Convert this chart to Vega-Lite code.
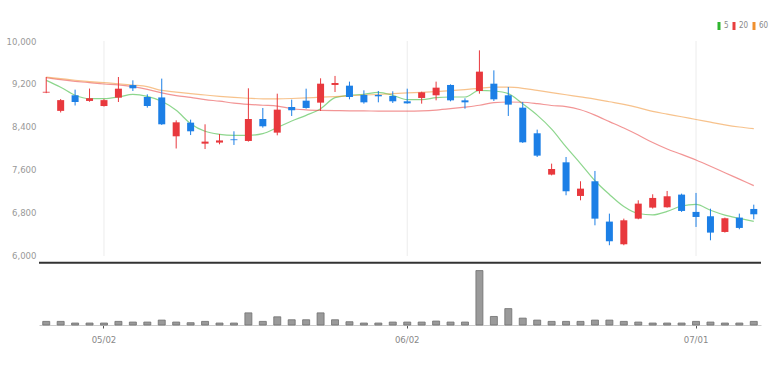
{
  "$schema": "https://vega.github.io/schema/vega-lite/v6.json",
  "width": 722,
  "height": 284,
  "padding": {"left": 5, "top": 22, "right": 5, "bottom": 5},
  "background": "white",
  "config": {
    "view": {"stroke": null},
    "font": "Liberation Sans Narrow, DejaVu Sans Condensed, Roboto, sans-serif",
    "axisY": {"format": ",d", "formatType": "number"}
  },
  "datasets": {
    "k": [
      {"d":"2022-04-26","o":9040,"h":9330,"l":9030,"c":9055,"v":110000,"ma5":9268,"ma20":9318,"ma60":9330},
      {"d":"2022-04-27","o":8700,"h":8920,"l":8670,"c":8900,"v":110000,"ma5":9140,"ma20":9280,"ma60":9300},
      {"d":"2022-04-28","o":8990,"h":9095,"l":8800,"c":8865,"v":60000,"ma5":8990,"ma20":9250,"ma60":9270},
      {"d":"2022-04-29","o":8885,"h":9115,"l":8870,"c":8935,"v":60000,"ma5":8927,"ma20":9225,"ma60":9245},
      {"d":"2022-05-02","o":8790,"h":8920,"l":8780,"c":8900,"v":60000,"ma5":8927,"ma20":9200,"ma60":9225},
      {"d":"2022-05-03","o":8946,"h":9330,"l":8865,"c":9113,"v":110000,"ma5":8958,"ma20":9185,"ma60":9205},
      {"d":"2022-05-04","o":9180,"h":9268,"l":9070,"c":9120,"v":90000,"ma5":9008,"ma20":9150,"ma60":9180},
      {"d":"2022-05-06","o":8958,"h":9008,"l":8760,"c":8791,"v":90000,"ma5":8971,"ma20":9100,"ma60":9150},
      {"d":"2022-05-09","o":8950,"h":9300,"l":8438,"c":8450,"v":150000,"ma5":8878,"ma20":9035,"ma60":9080},
      {"d":"2022-05-10","o":8227,"h":8524,"l":8000,"c":8487,"v":90000,"ma5":8710,"ma20":8985,"ma60":9050},
      {"d":"2022-05-11","o":8481,"h":8537,"l":8250,"c":8320,"v":70000,"ma5":8462,"ma20":8950,"ma60":9020},
      {"d":"2022-05-12","o":8090,"h":8450,"l":7990,"c":8128,"v":110000,"ma5":8320,"ma20":8910,"ma60":8995},
      {"d":"2022-05-13","o":8110,"h":8270,"l":8078,"c":8150,"v":60000,"ma5":8264,"ma20":8880,"ma60":8970},
      {"d":"2022-05-16","o":8170,"h":8320,"l":8066,"c":8155,"v":60000,"ma5":8245,"ma20":8845,"ma60":8950},
      {"d":"2022-05-17","o":8140,"h":9120,"l":8128,"c":8549,"v":370000,"ma5":8245,"ma20":8822,"ma60":8935},
      {"d":"2022-05-18","o":8549,"h":8754,"l":8388,"c":8413,"v":110000,"ma5":8276,"ma20":8805,"ma60":8925},
      {"d":"2022-05-19","o":8295,"h":9020,"l":8245,"c":8723,"v":250000,"ma5":8388,"ma20":8790,"ma60":8925},
      {"d":"2022-05-20","o":8772,"h":8909,"l":8605,"c":8710,"v":160000,"ma5":8512,"ma20":8740,"ma60":8930},
      {"d":"2022-05-23","o":8890,"h":9113,"l":8741,"c":8754,"v":160000,"ma5":8617,"ma20":8720,"ma60":8940},
      {"d":"2022-05-24","o":8853,"h":9306,"l":8698,"c":9206,"v":370000,"ma5":8740,"ma20":8710,"ma60":8955},
      {"d":"2022-05-25","o":9182,"h":9350,"l":9051,"c":9219,"v":160000,"ma5":8946,"ma20":8705,"ma60":8965},
      {"d":"2022-05-26","o":9169,"h":9244,"l":8915,"c":8958,"v":100000,"ma5":8990,"ma20":8700,"ma60":8980},
      {"d":"2022-05-27","o":8996,"h":9082,"l":8834,"c":8859,"v":60000,"ma5":9008,"ma20":8700,"ma60":8995},
      {"d":"2022-05-30","o":8996,"h":9070,"l":8859,"c":8971,"v":60000,"ma5":9045,"ma20":8695,"ma60":9005},
      {"d":"2022-05-31","o":8977,"h":9064,"l":8847,"c":8878,"v":90000,"ma5":8990,"ma20":8695,"ma60":9020},
      {"d":"2022-06-02","o":8878,"h":9113,"l":8834,"c":8840,"v":90000,"ma5":8909,"ma20":8695,"ma60":9035},
      {"d":"2022-06-03","o":8940,"h":9057,"l":8834,"c":9045,"v":90000,"ma5":8909,"ma20":8700,"ma60":9045},
      {"d":"2022-06-07","o":8990,"h":9244,"l":8896,"c":9132,"v":120000,"ma5":8946,"ma20":8715,"ma60":9060},
      {"d":"2022-06-08","o":9182,"h":9194,"l":8878,"c":8896,"v":90000,"ma5":8958,"ma20":8740,"ma60":9075},
      {"d":"2022-06-09","o":8896,"h":8934,"l":8741,"c":8859,"v":90000,"ma5":8958,"ma20":8770,"ma60":9095},
      {"d":"2022-06-10","o":9070,"h":9826,"l":9020,"c":9430,"v":1660000,"ma5":9082,"ma20":8805,"ma60":9120},
      {"d":"2022-06-13","o":9206,"h":9454,"l":8884,"c":8915,"v":260000,"ma5":9070,"ma20":8855,"ma60":9140},
      {"d":"2022-06-14","o":8990,"h":9144,"l":8605,"c":8816,"v":500000,"ma5":9020,"ma20":8865,"ma60":9140},
      {"d":"2022-06-15","o":8760,"h":8865,"l":8103,"c":8115,"v":210000,"ma5":8830,"ma20":8860,"ma60":9120},
      {"d":"2022-06-16","o":8283,"h":8351,"l":7842,"c":7867,"v":150000,"ma5":8620,"ma20":8835,"ma60":9080},
      {"d":"2022-06-17","o":7514,"h":7718,"l":7500,"c":7619,"v":110000,"ma5":8360,"ma20":8800,"ma60":9040},
      {"d":"2022-06-20","o":7743,"h":7842,"l":7130,"c":7204,"v":110000,"ma5":8030,"ma20":8780,"ma60":9000},
      {"d":"2022-06-21","o":7117,"h":7390,"l":7036,"c":7253,"v":110000,"ma5":7720,"ma20":8720,"ma60":8960},
      {"d":"2022-06-22","o":7390,"h":7582,"l":6571,"c":6695,"v":150000,"ma5":7400,"ma20":8620,"ma60":8920},
      {"d":"2022-06-23","o":6640,"h":6788,"l":6200,"c":6274,"v":150000,"ma5":7145,"ma20":8500,"ma60":8870},
      {"d":"2022-06-24","o":6218,"h":6695,"l":6200,"c":6664,"v":110000,"ma5":6920,"ma20":8380,"ma60":8820},
      {"d":"2022-06-27","o":6695,"h":7036,"l":6683,"c":6974,"v":90000,"ma5":6790,"ma20":8250,"ma60":8760},
      {"d":"2022-06-28","o":6900,"h":7148,"l":6882,"c":7080,"v":60000,"ma5":6765,"ma20":8110,"ma60":8690},
      {"d":"2022-06-29","o":6906,"h":7210,"l":6900,"c":7111,"v":60000,"ma5":6830,"ma20":7990,"ma60":8640},
      {"d":"2022-06-30","o":7142,"h":7160,"l":6820,"c":6838,"v":60000,"ma5":6930,"ma20":7890,"ma60":8590},
      {"d":"2022-07-01","o":6820,"h":7173,"l":6540,"c":6726,"v":110000,"ma5":6960,"ma20":7785,"ma60":8540},
      {"d":"2022-07-04","o":6739,"h":6880,"l":6292,"c":6435,"v":90000,"ma5":6850,"ma20":7670,"ma60":8490},
      {"d":"2022-07-05","o":6447,"h":6714,"l":6435,"c":6702,"v":60000,"ma5":6760,"ma20":7550,"ma60":8440},
      {"d":"2022-07-06","o":6714,"h":6788,"l":6497,"c":6522,"v":60000,"ma5":6700,"ma20":7430,"ma60":8400},
      {"d":"2022-07-07","o":6875,"h":6955,"l":6683,"c":6776,"v":110000,"ma5":6645,"ma20":7310,"ma60":8370}
    ],
    "g": [
      {"d":"2022-05-02"},
      {"d":"2022-06-02"},
      {"d":"2022-07-01"}
    ]
  },
  "data": {"name": "k"},
  "layer": [
    {
      "layer": [
        {
          "data": {"values": [{}]},
          "mark": {"type": "rule", "color": "#333333", "strokeWidth": 2},
          "encoding": {
            "y": {"datum": 5873, "type": "quantitative", "title": null,
                  "scale": {"domain": [4716, 10000], "nice": false, "zero": false},
                  "axis": {"values": [6000, 6800, 7600, 8400, 9200, 10000], "format": ",d", "formatType": "number",
                           "labelExpr": "format(datum.value, ',d')", "domain": false, "ticks": false,
                           "labelPadding": 3, "labelColor": "#999999", "labelFontSize": 9.5, "gridColor": "#ececec",
                           "minExtent": 34, "maxExtent": 34, "title": null}}
          }
        },
        {
          "encoding": {
            "x": {"field": "d", "type": "ordinal", "title": null,
                  "scale": {"paddingInner": 0, "paddingOuter": 0},
                  "axis": {"values": ["2022-05-02", "2022-06-02", "2022-07-01"],
                           "labelExpr": "slice(datum.value,5,7)+'/'+slice(datum.value,8,10)",
                           "labelAngle": 0, "tickSize": 3, "tickColor": "#555555", "domainColor": "#cccccc",
                           "labelColor": "#888888", "labelFontSize": 9.5, "labelPadding": 6, "grid": false,
                           "bandPosition": 0.5, "title": null}}
          },
          "layer": [
            {
              "data": {"name": "g"},
              "mark": {"type": "rule", "color": "#ececec", "strokeWidth": 1},
              "encoding": {
                "y": {"datum": 10000, "type": "quantitative", "title": null},
                "y2": {"datum": 6000}
              }
            },
            {
              "transform": [{"fold": ["ma5", "ma20", "ma60"], "as": ["ma", "p"]}],
              "mark": {"type": "line", "strokeWidth": 1.2, "opacity": 0.55, "interpolate": "monotone"},
              "encoding": {
                "y": {"field": "p", "type": "quantitative", "title": null},
                "color": {"field": "ma", "type": "nominal",
                          "scale": {"domain": ["ma5", "ma20", "ma60"], "range": ["#2fb52f", "#e83e3e", "#f0902e"]},
                          "legend": {"title": null, "orient": "none", "legendX": 676, "legendY": -19,
                                     "direction": "horizontal",
                                     "labelExpr": "replace(datum.label, 'ma', '')",
                                     "symbolType": "M-0.6,-1.6L0.6,-1.6L0.6,1.6L-0.6,1.6Z", "symbolSize": 25,
                                     "symbolStrokeWidth": 0, "symbolOpacity": 1,
                                     "labelFontSize": 8, "labelColor": "#888888",
                                     "columnPadding": 1, "labelOffset": 1, "symbolOffset": 0,
                                     "encode": {"symbols": {"update": {"fill": {"scale": "color", "field": "value"}, "opacity": {"value": 1}}}}}}
              }
            },
            {
              "mark": {"type": "rule", "strokeWidth": 1},
              "encoding": {
                "y": {"field": "l", "type": "quantitative", "title": null},
                "y2": {"field": "h"},
                "color": {"condition": {"test": "datum.c > datum.o", "value": "#e8383d"}, "value": "#1c7fe6"}
              }
            },
            {
              "mark": {"type": "bar", "size": 7},
              "encoding": {
                "y": {"field": "o", "type": "quantitative", "title": null},
                "y2": {"field": "c"},
                "color": {"condition": {"test": "datum.c > datum.o", "value": "#e8383d"}, "value": "#1c7fe6"}
              }
            }
          ]
        }
      ]
    },
    {
      "mark": {"type": "bar", "size": 7, "fill": "#9a9a9a", "stroke": "#707070", "strokeWidth": 0.8},
      "encoding": {
        "x": {"field": "d", "type": "ordinal", "title": null,
              "scale": {"paddingInner": 0, "paddingOuter": 0},
              "axis": {"values": ["2022-05-02", "2022-06-02", "2022-07-01"],
                       "labelExpr": "slice(datum.value,5,7)+'/'+slice(datum.value,8,10)",
                       "labelAngle": 0, "tickSize": 3, "tickColor": "#555555", "domainColor": "#cccccc",
                       "labelColor": "#888888", "labelFontSize": 9.5, "labelPadding": 6, "grid": false,
                       "bandPosition": 0.5, "title": null}},
        "y": {"field": "v", "type": "quantitative", "title": null,
              "scale": {"domain": [0, 8660000], "nice": false}, "axis": null}
      }
    }
  ],
  "resolve": {"scale": {"y": "independent"}, "axis": {"y": "independent"}}
}
